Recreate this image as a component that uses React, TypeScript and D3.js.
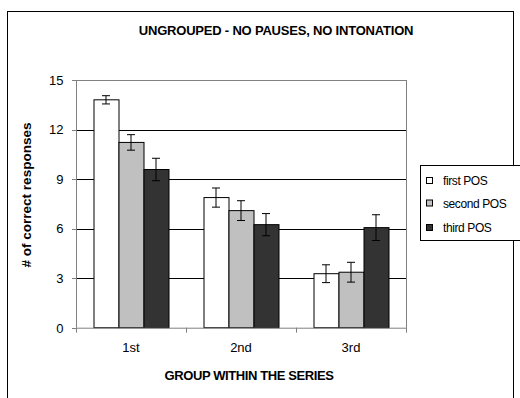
import React from "react";
import * as d3 from "d3";

const categories = ["1st", "2nd", "3rd"];
const seriesNames = ["first POS", "second POS", "third POS"];
const firstPOS = [13.8, 7.88, 3.27];
const secondPOS = [11.22, 7.09, 3.36];
const thirdPOS = [9.58, 6.24, 6.06];
const firstErr = [0.25, 0.58, 0.54];
const secondErr = [0.47, 0.6, 0.6];
const thirdErr = [0.68, 0.67, 0.78];
const yTicks = [0, 3, 6, 9, 12, 15];
const colors = ["#ffffff", "#c0c0c0", "#333333"];

const W = 520, H = 398;
const plot = { left: 76, right: 406, top: 80, bottom: 327.7 };
const font = "'Liberation Sans', Arial, sans-serif";

export default function App() {
  const values = [firstPOS, secondPOS, thirdPOS];
  const errs = [firstErr, secondErr, thirdErr];
  const x0 = d3.scaleBand<string>().domain(categories).range([plot.left, plot.right]).paddingInner(0).paddingOuter(0);
  const groupW = 75;
  const x1 = d3.scaleBand<string>().domain(seriesNames).range([0, groupW]).padding(0);
  const y = d3.scaleLinear().domain([0, 15]).range([plot.bottom, plot.top]);
  const pad = (x0.bandwidth() - groupW) / 2;

  return (
    <svg width={W} height={H} style={{ position: "absolute", left: 0, top: 0, background: "#fff" }} fontFamily={font}>
      <rect x={7.5} y={11.5} width={506} height={400} fill="#fff" stroke="#000" strokeWidth={1} />
      <text x={276} y={34.5} textAnchor="middle" fontSize={13} fontWeight="bold" letterSpacing={-0.2}>
        UNGROUPED - NO PAUSES, NO INTONATION
      </text>
      {/* gridlines */}
      {yTicks.filter(t => t > 0 && t < 15).map(t => (
        <line key={t} x1={plot.left} x2={plot.right} y1={Math.round(y(t)) + 0.5} y2={Math.round(y(t)) + 0.5} stroke="#000" strokeWidth={1} />
      ))}
      {/* plot border top/right */}
      <line x1={plot.left} x2={plot.right} y1={plot.top + 0.5} y2={plot.top + 0.5} stroke="#808080" />
      <line x1={plot.right + 0.5} x2={plot.right + 0.5} y1={plot.top} y2={plot.bottom} stroke="#808080" />
      {/* bars */}
      {categories.map((c, ci) => (
        <g key={c}>
          {seriesNames.map((s, si) => {
            const bx = (x0(c) as number) + pad + (x1(s) as number);
            const v = values[si][ci];
            const e = errs[si][ci];
            const cx = bx + x1.bandwidth() / 2;
            return (
              <g key={s}>
                <rect x={bx + 0.5} y={y(v)} width={x1.bandwidth()} height={plot.bottom - y(v)} fill={colors[si]} stroke="#000" strokeWidth={1} />
                <line x1={cx} x2={cx} y1={y(v + e)} y2={y(v - e)} stroke="#000" />
                <line x1={cx - 4} x2={cx + 4} y1={y(v + e)} y2={y(v + e)} stroke="#000" />
                <line x1={cx - 4} x2={cx + 4} y1={y(v - e)} y2={y(v - e)} stroke="#000" />
              </g>
            );
          })}
        </g>
      ))}
      {/* axes */}
      <line x1={plot.left + 0.5} x2={plot.left + 0.5} y1={plot.top} y2={plot.bottom} stroke="#808080" />
      <line x1={plot.left} x2={plot.right + 1} y1={plot.bottom + 0.5} y2={plot.bottom + 0.5} stroke="#808080" />
      {yTicks.map(t => (
        <g key={t}>
          <line x1={plot.left - 4} x2={plot.left} y1={Math.round(y(t)) + 0.5} y2={Math.round(y(t)) + 0.5} stroke="#808080" />
          <text x={63.5} y={y(t) + 4.8} textAnchor="end" fontSize={13}>{t}</text>
        </g>
      ))}
      {categories.map((c) => (
        <text key={c} x={(x0(c) as number) + x0.bandwidth() / 2} y={352} textAnchor="middle" fontSize={13}>{c}</text>
      ))}
      {[...categories.map(c => x0(c) as number), plot.right].map((xv, i) => (
        <line key={i} x1={Math.round(xv) + 0.5} x2={Math.round(xv) + 0.5} y1={plot.bottom} y2={plot.bottom + 5} stroke="#808080" />
      ))}
      <text x={249} y={380} textAnchor="middle" fontSize={13} fontWeight="bold" letterSpacing={-0.4}>GROUP WITHIN THE SERIES</text>
      <text transform={`translate(30.5,195) rotate(-90)`} textAnchor="middle" fontSize={13.5} fontWeight="bold">
        # of correct responses
      </text>
      {/* legend */}
      <rect x={420.5} y={165.5} width={100} height={75} fill="#fff" stroke="#000" />
      {seriesNames.map((s, i) => {
        const ly = [181, 203.5, 228][i];
        return (
          <g key={s}>
            <rect x={426.5} y={ly - 3.5} width={6} height={6} fill={colors[i]} stroke="#000" />
            <text x={443} y={ly + 4.3} fontSize={12} letterSpacing={-0.4}>{s}</text>
          </g>
        );
      })}
    </svg>
  );
}
